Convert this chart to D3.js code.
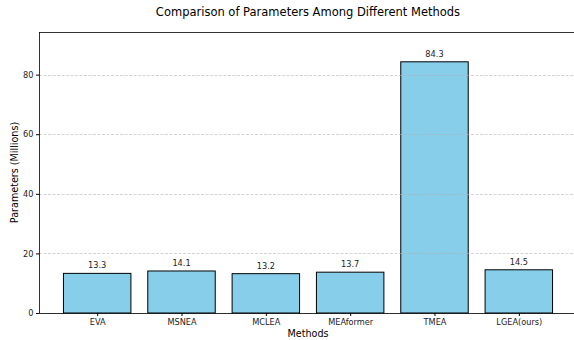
<!DOCTYPE html>
<html><head><meta charset="utf-8">
<script src="https://cdn.jsdelivr.net/npm/d3@7"></script>
<style>body{margin:0;background:#fff}svg{display:block;font-family:"DejaVu Sans",sans-serif}</style>
</head><body>
<svg id="c" width="574" height="340"></svg>
<script>
const methods = ["EVA","MSNEA","MCLEA","MEAformer","TMEA","LGEA(ours)"];
const params = [13.3,14.1,13.2,13.7,84.3,14.5];
const yTicks = [0,20,40,60,80];

const svg = d3.select("#c");
const L=39, R=577, T=32, B=313;
const x = d3.scaleLinear().domain([-0.69, 5.69]).range([L,R]);
const y = d3.scaleLinear().domain([0, 94.3]).range([B,T]);
const bw = x(0.4)-x(-0.4);

const g = svg.append("g");
g.selectAll("rect.bar").data(params).enter().append("rect")
  .attr("x",(d,i)=>x(i)-bw/2).attr("y",d=>y(d))
  .attr("width",bw).attr("height",d=>y(0)-y(d))
  .attr("fill","#87CEEB").attr("stroke","#000").attr("stroke-width",1);

// grid
g.selectAll("line.grid").data(yTicks).enter().append("line")
  .attr("x1",L).attr("x2",R).attr("y1",d=>Math.round(y(d))+0.5).attr("y2",d=>Math.round(y(d))+0.5)
  .attr("stroke","#b0b0b0").attr("stroke-opacity",0.7).attr("stroke-width",0.8).attr("stroke-dasharray","3,1.5");

g.selectAll("text.val").data(params).enter().append("text")
  .attr("x",(d,i)=>x(i)).attr("y",d=>y(d)-5)
  .attr("text-anchor","middle").attr("font-size",8.2).attr("fill","#222")
  .text(d=>d.toFixed(1));

const ya = d3.axisLeft(y).tickValues(yTicks).tickSize(3).tickPadding(2.5).tickFormat(d3.format("d"));
const yg = svg.append("g").attr("transform",`translate(${L},0)`).call(ya);
yg.select(".domain").remove();
yg.selectAll("text").attr("font-size",8.2).attr("fill","#222").attr("font-family","DejaVu Sans");

const xa = d3.axisBottom(x).tickValues(d3.range(methods.length)).tickSize(3).tickPadding(3).tickFormat(i=>methods[i]);
const xg = svg.append("g").attr("transform",`translate(0,${B})`).call(xa);
xg.select(".domain").remove();
xg.selectAll("text").attr("font-size",8.2).attr("fill","#222").attr("font-family","DejaVu Sans");

// spines
svg.append("rect").attr("x",L+0.5).attr("y",T+0.5).attr("width",R-L).attr("height",B-T)
  .attr("fill","none").attr("stroke","#000").attr("stroke-width",0.8);

svg.append("text").attr("x",(L+R)/2).attr("y",16).attr("text-anchor","middle")
  .attr("font-size",11.5).attr("fill","#000").text("Comparison of Parameters Among Different Methods");
svg.append("text").attr("x",(L+R)/2).attr("y",337).attr("text-anchor","middle")
  .attr("font-size",9.6).attr("fill","#000").text("Methods");
svg.append("text").attr("transform",`translate(18,${(T+B)/2}) rotate(-90)`).attr("text-anchor","middle")
  .attr("font-size",9.6).attr("fill","#000").text("Parameters (Millions)");
</script>
</body></html>
